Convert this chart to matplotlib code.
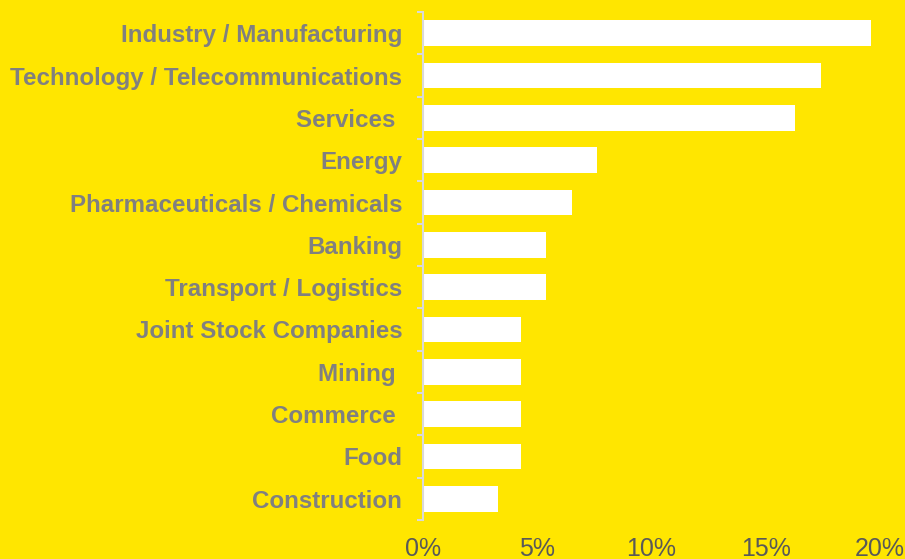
import numpy as np
from matplotlib import pyplot as plt
from matplotlib.ticker import FixedLocator, PercentFormatter

# share of respondents by sector (%)
sectors = [
    'Industry / Manufacturing',
    'Technology / Telecommunications',
    'Services ',
    'Energy',
    'Pharmaceuticals / Chemicals',
    'Banking',
    'Transport / Logistics',
    'Joint Stock Companies',
    'Mining ',
    'Commerce ',
    'Food',
    'Construction',
]
shares = [19.6, 17.4, 16.3, 7.6, 6.5, 5.4, 5.4, 4.3, 4.3, 4.3, 4.3, 3.3]
x_ticks = [0, 5, 10, 15, 20]

YELLOW = '#ffe600'
plt.rcParams['font.family'] = ['Liberation Sans', 'DejaVu Sans']

fig = plt.figure(figsize=(9.05, 5.59), dpi=100, facecolor=YELLOW)
ax = fig.add_axes([0.4674, 0.0698, 0.505, 0.9087], facecolor=YELLOW)

y = np.arange(len(sectors))
ax.barh(y, shares, height=0.61, color='white', zorder=2)

ax.set_xlim(0, 20)
ax.set_ylim(len(sectors) - 0.5, -0.5)

for side in ('top', 'right', 'bottom'):
    ax.spines[side].set_visible(False)
ax.spines['left'].set_color('#d9d9d9')
ax.spines['left'].set_linewidth(1.5)

ax.set_yticks(y)
ax.set_yticklabels(sectors, fontsize=17.4, fontweight='bold', color='#808080')
ax.tick_params(axis='y', which='major', length=0, pad=15)
ax.yaxis.set_minor_locator(FixedLocator(np.arange(len(sectors) + 1) - 0.5))
ax.tick_params(axis='y', which='minor', length=4.5, width=1.5, color='#d9d9d9')

ax.set_xticks(x_ticks)
ax.xaxis.set_major_formatter(PercentFormatter(decimals=0))
ax.tick_params(axis='x', length=0, pad=12, labelsize=18, labelcolor='#595959')

fig.savefig('out.png', dpi=100, facecolor=YELLOW)
